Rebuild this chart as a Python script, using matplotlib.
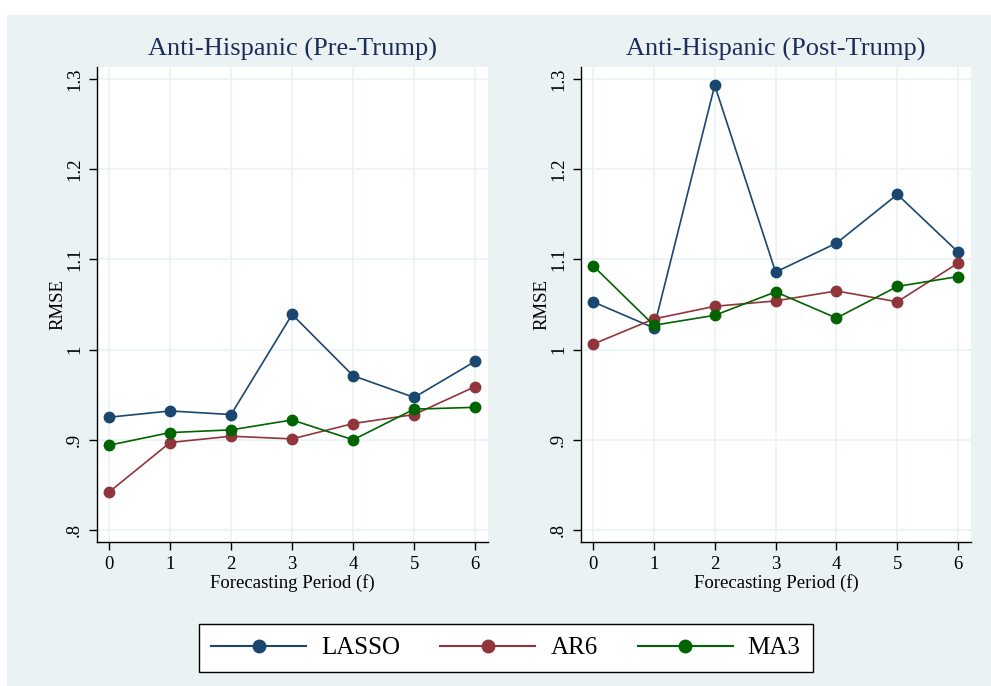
import matplotlib.pyplot as plt
from matplotlib.patches import Rectangle
from matplotlib.lines import Line2D

plt.rcParams['font.family'] = ['Liberation Serif', 'DejaVu Serif']

periods = [0, 1, 2, 3, 4, 5, 6]

# RMSE by forecasting period, pre-Trump sample
pre_lasso = [0.925, 0.932, 0.928, 1.039, 0.971, 0.947, 0.987]
pre_ar6 = [0.842, 0.897, 0.904, 0.901, 0.918, 0.928, 0.959]
pre_ma3 = [0.894, 0.908, 0.911, 0.922, 0.900, 0.934, 0.936]

# RMSE by forecasting period, post-Trump sample
post_lasso = [1.053, 1.024, 1.293, 1.086, 1.118, 1.172, 1.108]
post_ar6 = [1.006, 1.034, 1.048, 1.054, 1.065, 1.053, 1.096]
post_ma3 = [1.093, 1.027, 1.038, 1.064, 1.035, 1.070, 1.081]

series_names = ["LASSO", "AR6", "MA3"]
series_colors = ["#1a476f", "#90353b", "#006400"]
panel_titles = ["Anti-Hispanic (Pre-Trump)", "Anti-Hispanic (Post-Trump)"]
yticks = [0.8, 0.9, 1.0, 1.1, 1.2, 1.3]
ytick_labels = [".8", ".9", "1", "1.1", "1.2", "1.3"]

BG = "#eaf2f3"
GRID = "#eaf2f3"
TITLE_COLOR = "#1c2d5a"

fig = plt.figure(figsize=(9.91, 6.86), dpi=100)
fig.patch.set_facecolor("white")
# shaded graph region, leaving a thin white margin at the top and left
fig.patches.append(Rectangle((7 / 991, 0), 1, 1 - 15 / 686, transform=fig.transFigure,
                             facecolor=BG, edgecolor="none", zorder=-10))

ax_left = fig.add_axes([97 / 991, 1 - 542 / 686, 391 / 991, 475 / 686])
ax_right = fig.add_axes([581 / 991, 1 - 542 / 686, 390 / 991, 475 / 686])

panels = [(ax_left, [pre_lasso, pre_ar6, pre_ma3]),
          (ax_right, [post_lasso, post_ar6, post_ma3])]

for (ax, data), title in zip(panels, panel_titles):
    ax.set_facecolor("white")
    for vals, name, col in zip(data, series_names, series_colors):
        ax.plot(periods, vals, color=col, lw=1.2, marker="o", markersize=7.5,
                label=name, zorder=3)
    ax.set_xlim(-0.197, 6.21)
    ax.set_ylim(0.7867, 1.3133)
    ax.set_xticks(periods)
    ax.set_yticks(yticks)
    ax.set_yticklabels(ytick_labels, rotation=90, va="center")
    ax.grid(True, color=GRID, lw=1.2, zorder=0)
    ax.set_axisbelow(True)
    for side in ["top", "right"]:
        ax.spines[side].set_visible(False)
    for side in ["left", "bottom"]:
        ax.spines[side].set_linewidth(1.0)
    ax.tick_params(direction="out", length=6, width=1.0, labelsize=13.5, pad=4)
    ax.set_xlabel("Forecasting Period (f)", fontsize=13.5, labelpad=1)
    ax.set_ylabel("RMSE", fontsize=13.5, labelpad=0)
    ax.set_title(title, fontsize=19, color=TITLE_COLOR, pad=8)

handles = [Line2D([0], [0], color=c, lw=1.5, marker="o", markersize=9)
           for c in series_colors]
leg = fig.legend(handles, series_names, loc="center", ncol=3,
                 bbox_to_anchor=(506 / 991, 1 - 648 / 686), fontsize=18,
                 frameon=True, fancybox=False, edgecolor="black",
                 facecolor="white", framealpha=1.0,
                 handlelength=3.8, columnspacing=1.6, handletextpad=0.6,
                 borderpad=0.5)
leg.get_frame().set_linewidth(1.0)

fig.savefig("out.png", dpi=100, facecolor=fig.get_facecolor())
